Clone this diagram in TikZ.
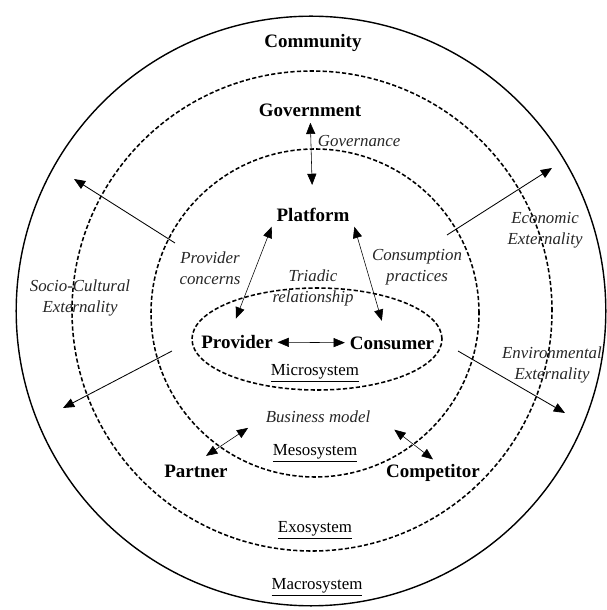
\documentclass[tikz,border=0pt]{standalone}
\usepackage{fontspec}
\setmainfont{Liberation Serif}
\usetikzlibrary{arrows.meta}

\begin{document}
\begin{tikzpicture}[
  actor/.style={font=\bfseries\fontsize{13.5}{16}\selectfont},
  flow/.style={font=\itshape\fontsize{12}{15}\selectfont,align=center,text=black!85},
  level/.style={font=\fontsize{12}{14}\selectfont},
  ring/.style={line width=1.1pt,dash pattern=on 3pt off 1.6pt},
  >={Triangle[length=8pt,width=6.5pt]}]
\useasboundingbox (-7.775,7.775) rectangle (7.375,-7.475);
% Nested systems
\draw[line width=1pt] (0,0) circle (7.37);
\draw[ring] (.025,0) circle (6);
\draw[ring] (.1,-.05) circle (4.1);
\draw[ring] (.15,-.7) ellipse (3.125 and 1.275);
% Actors
\node[actor] (community)  at (.05,6.7)    {Community};
\node[actor] (government) at (-.025,5.025) {Government};
\node[actor] (platform)   at (.05,2.4)    {Platform};
\node[actor] (provider)   at (-1.85,-.775) {Provider};
\node[actor] (consumer)   at (2.025,-.8)  {Consumer};
\node[actor] (partner)    at (-2.875,-4)  {Partner};
\node[actor] (competitor) at (3.05,-4.05) {Competitor};
% System names
\node[level] (micro) at (.1,-1.55)  {\underline{Microsystem}};
\node[level] (meso)  at (.1,-3.55)  {\underline{Mesosystem}};
\node[level] (exo)   at (.1,-5.475) {\underline{Exosystem}};
\node[level] (macro) at (.15,-6.9)  {\underline{Macrosystem}};
% Relations
\node[flow] (triadic)   at (.05,.575)  {Triadic\\relationship};
\node[flow] (pconcern)  at (-2.525,1.075) {Provider\\concerns};
\node[flow] (cpractice) at (2.65,1.1)  {Consumption\\practices};
\node[flow] (business)  at (.175,-2.65) {Business model};
\node[flow,anchor=west] (governance) at (.05,4.25) {Governance};
% Externalities
\node[flow] (socio)    at (-5.775,.325) {Socio-Cultural\\Externality};
\node[flow] (economic) at (5.85,2.025)  {Economic\\Externality};
\node[flow] (environ)  at (6.025,-1.35) {Environmental\\Externality};
% Links between actors
\draw[<->,shorten <=1pt,shorten >=13pt] (government) -- (platform);
\draw[<->,shorten >=9pt] (platform.south west) -- ([xshift=-4pt]provider.north);
\draw[<->,shorten >=8pt] (platform.south east) -- ([xshift=-5pt]consumer.north);
\draw[<->] (provider) -- (consumer);
\draw[<->,shorten <=5pt] ([xshift=3pt]partner.north) -- ([xshift=-9pt]business.south west);
\draw[<->,shorten <=2pt] ([xshift=12pt]business.south east) -- (competitor.north);
% Spill-over to the macrosystem
\coordinate (scStart) at (-3.4,1.7);
\coordinate (scEnd)   at (-5.925,3.3);
\coordinate (scStart2) at (-3.475,-1);
\coordinate (scEnd2)   at (-6.2,-2.425);
\coordinate (ecStart) at (3.4,1.9);
\coordinate (ecEnd)   at (6.025,3.575);
\coordinate (enStart) at (3.675,-1);
\coordinate (enEnd)   at (6.35,-2.55);
\foreach \a/\b in {scStart/scEnd,scStart2/scEnd2,ecStart/ecEnd,enStart/enEnd}
  \draw[->,line width=.6pt] (\a) -- (\b);
\end{tikzpicture}
\end{document}
